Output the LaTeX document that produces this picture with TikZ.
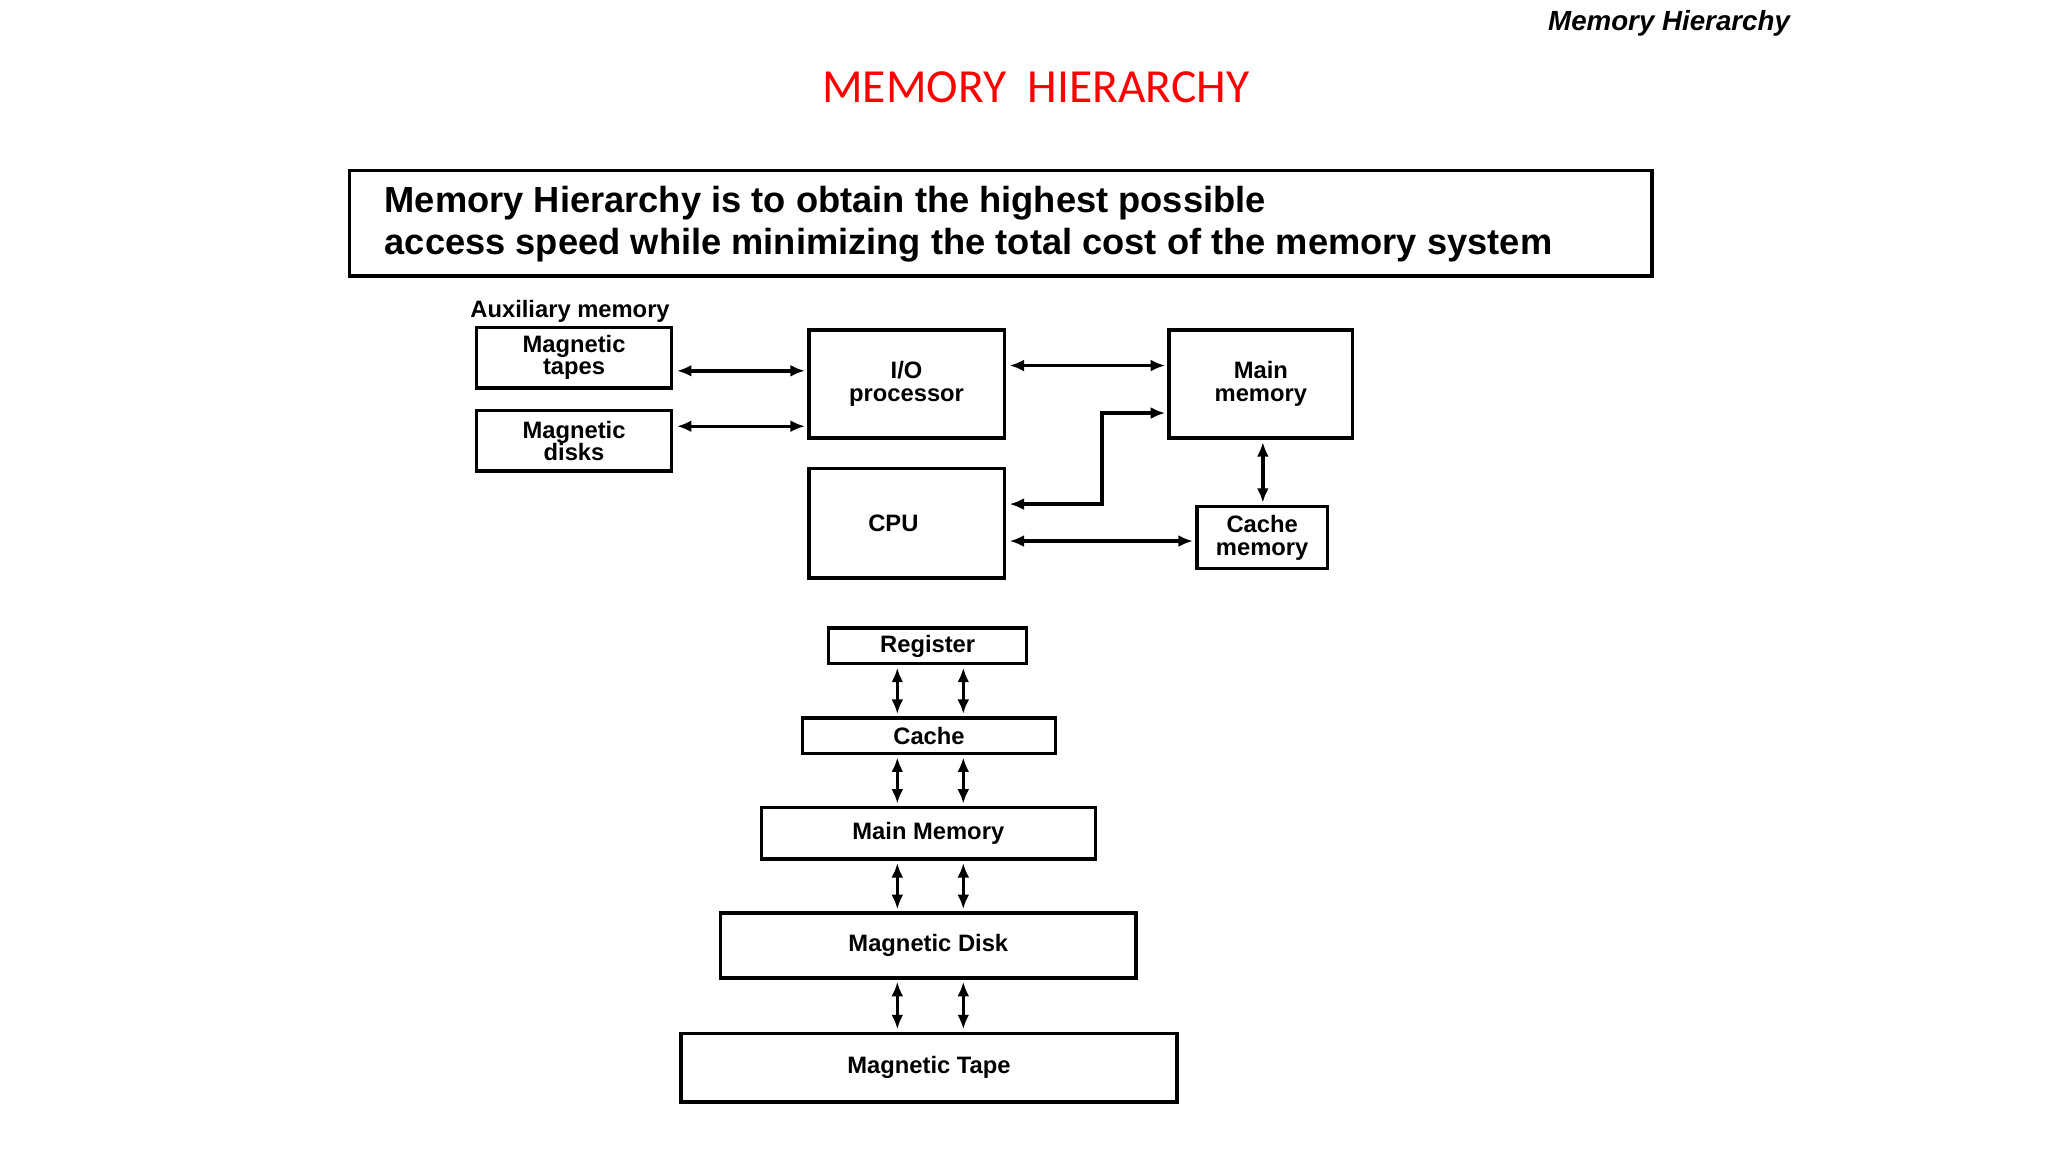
\documentclass[tikz,border=0pt]{standalone}
\usepackage{fontspec}
\setmainfont{Liberation Sans}
\newfontfamily\titlefont{Carlito}
\usetikzlibrary{arrows.meta}
\begin{document}
\begin{tikzpicture}[x=1pt,y=-1pt,
  box/.style={draw,line width=2.6pt,inner sep=0pt},
  lbl/.style={font=\fontsize{18}{17}\selectfont\bfseries,align=center},
  arr/.style={line width=2.6pt,{Latex[length=11pt,width=9pt]}-{Latex[length=11pt,width=9pt]}}]
\useasboundingbox (0,0) rectangle (1552,873);
\node[font=\fontsize{21}{24}\selectfont\bfseries\itshape,anchor=east] (hdr) at (1360,18) {Memory Hierarchy};
\node[font=\titlefont\fontsize{36}{40}\selectfont,text=red] (title) at (785,66) {MEMORY\ \ HIERARCHY};
\draw[line width=2.6pt] (265,129) rectangle (1252,209);
\node[anchor=west,font=\fontsize{27.5}{32}\selectfont\bfseries,align=left] (stmt) at (288,170) {Memory Hierarchy is to obtain the highest possible\\access speed while minimizing the total cost of the memory system};
\node[lbl] (aux) at (432,236) {Auxiliary memory};
\draw[box] (361,248) rectangle (509,294) node[midway,lbl] (tapes) {Magnetic\\tapes};
\draw[box] (361,311) rectangle (509,357) node[midway,lbl] (disks) {Magnetic\\disks};
\draw[box] (613,250) rectangle (761,332) node[midway,lbl] (io) {I/O\\processor};
\draw[box] (886,250) rectangle (1025,332) node[midway,lbl] (mm) {Main\\memory};
\draw[box] (613,355) rectangle (761,438) node[midway,lbl,xshift=-10pt] (cpu) {CPU};
\draw[box] (907,384) rectangle (1006,431) node[midway,lbl] (cm) {Cache\\memory};
\draw[arr] (513,281) -- (610,281);
\draw[arr] (513,323) -- (610,323);
\draw[arr] (765,277) -- (883,277);
\draw[arr] (765,382) -- (835,382) -- (835,313) -- (883,313);
\draw[arr] (957,335) -- (957,381);
\draw[arr] (765,410) -- (904,410);
\draw[box] (628,476) rectangle (778,503) node[midway,lbl] (r) {Register};
\draw[box] (608,544) rectangle (800,571) node[midway,lbl] (c) {Cache};
\draw[box] (577,612) rectangle (830,651) node[midway,lbl] (m) {Main Memory};
\draw[box] (546,692) rectangle (861,741) node[midway,lbl] (d) {Magnetic Disk};
\draw[box] (516,783) rectangle (892,835) node[midway,lbl] (t) {Magnetic Tape};
\foreach \a/\b in {506/541,574/609,654/689,744/780}{
  \draw[arr] (680,\a) -- (680,\b);
  \draw[arr] (730,\a) -- (730,\b);
}
\end{tikzpicture}
\end{document}
